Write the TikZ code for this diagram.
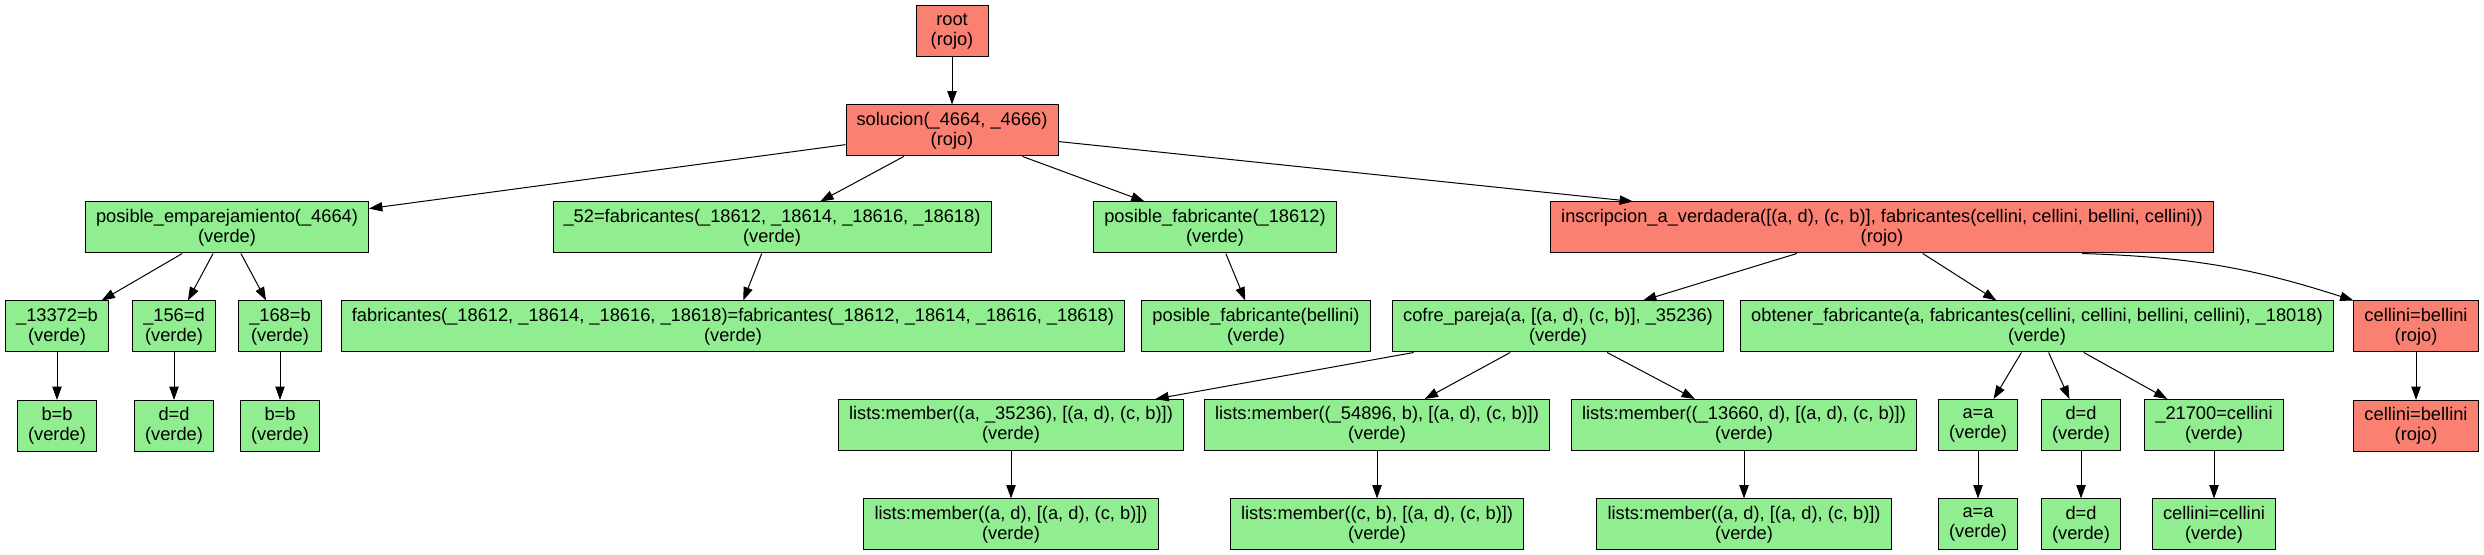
\documentclass[tikz,border=0pt]{standalone}
\usepackage{fontspec}
\setmainfont{Liberation Sans}
\usepackage{xcolor}
\usetikzlibrary{arrows.meta,positioning}

\definecolor{rojo}{HTML}{FA8072}
\definecolor{verde}{HTML}{90EE90}

\begin{document}
\begin{tikzpicture}[
    x=0.75pt, y=-0.75pt,
    node distance=35.6pt,
    goal/.style={rectangle, draw, line width=0.75pt, align=center, inner xsep=7.9pt, inner ysep=2pt,
        minimum width=54pt, minimum height=38.25pt, font=\fontsize{13.7pt}{15pt}\selectfont},
    rojobox/.style={goal, fill=rojo},
    verdebox/.style={goal, fill=verde},
    line/.style={draw, line width=0.75pt, -{Triangle[length=10pt, width=7pt]}}
]
    \useasboundingbox (0,0) rectangle (2484,555);

    % top of the tree
    \node [rojobox] (root) at (952,31) {root\\(rojo)};
    \node [rojobox, below=of root] (solucion) {solucion(\_4664, \_4666)\\(rojo)};

    % third row
    \node [verdebox] (emparejamiento) at (227,227.5) {posible\_emparejamiento(\_4664)\\(verde)};
    \node [verdebox] (fabricantes) at (772,227.5) {\_52=fabricantes(\_18612, \_18614, \_18616, \_18618)\\(verde)};
    \node [verdebox] (posfabricante) at (1215,227.5) {posible\_fabricante(\_18612)\\(verde)};
    \node [rojobox] (inscripcion) at (1882,227.5) {inscripcion\_a\_verdadera([(a, d), (c, b)], fabricantes(cellini, cellini, bellini, cellini))\\(rojo)};

    % fourth row
    \node [verdebox] (igualb) at (57,326.5) {\_13372=b\\(verde)};
    \node [verdebox] (iguald) at (174,326.5) {\_156=d\\(verde)};
    \node [verdebox] (igualbb) at (280,326.5) {\_168=b\\(verde)};
    \node [verdebox] (fabigual) at (733,326.5) {fabricantes(\_18612, \_18614, \_18616, \_18618)=fabricantes(\_18612, \_18614, \_18616, \_18618)\\(verde)};
    \node [verdebox] (posbellini) at (1256,326.5) {posible\_fabricante(bellini)\\(verde)};
    \node [verdebox] (cofre) at (1558,326.5) {cofre\_pareja(a, [(a, d), (c, b)], \_35236)\\(verde)};
    \node [verdebox] (obtener) at (2037,326.5) {obtener\_fabricante(a, fabricantes(cellini, cellini, bellini, cellini), \_18018)\\(verde)};
    \node [rojobox] (cellbell) at (2416,326.5) {cellini=bellini\\(rojo)};

    % fifth row
    \node [verdebox, below=of igualb] (bb) {b=b\\(verde)};
    \node [verdebox, below=of iguald] (dd) {d=d\\(verde)};
    \node [verdebox, below=of igualbb] (bbb) {b=b\\(verde)};
    \node [verdebox] (memberA) at (1011,425) {lists:member((a, \_35236), [(a, d), (c, b)])\\(verde)};
    \node [verdebox] (memberB) at (1377,425) {lists:member((\_54896, b), [(a, d), (c, b)])\\(verde)};
    \node [verdebox] (memberC) at (1744,425) {lists:member((\_13660, d), [(a, d), (c, b)])\\(verde)};
    \node [verdebox] (aa) at (1978,425) {a=a\\(verde)};
    \node [verdebox] (ddd) at (2081,425) {d=d\\(verde)};
    \node [verdebox] (igualcell) at (2214,425) {\_21700=cellini\\(verde)};
    \node [rojobox, below=of cellbell] (cellbell2) {cellini=bellini\\(rojo)};

    % sixth row
    \node [verdebox, below=of memberA] (memberA2) {lists:member((a, d), [(a, d), (c, b)])\\(verde)};
    \node [verdebox, below=of memberB] (memberB2) {lists:member((c, b), [(a, d), (c, b)])\\(verde)};
    \node [verdebox, below=of memberC] (memberC2) {lists:member((a, d), [(a, d), (c, b)])\\(verde)};
    \node [verdebox, below=of aa] (aa2) {a=a\\(verde)};
    \node [verdebox, below=of ddd] (ddd2) {d=d\\(verde)};
    \node [verdebox, below=of igualcell] (cellcell) {cellini=cellini\\(verde)};

    \path [line] (root) -- (solucion);
    \path [line] (solucion) -- (emparejamiento);
    \path [line] (solucion) -- (fabricantes);
    \path [line] (solucion) -- (posfabricante);
    \path [line] (solucion) -- (inscripcion);
    \path [line] (emparejamiento) -- (igualb);
    \path [line] (emparejamiento) -- (iguald);
    \path [line] (emparejamiento) -- (igualbb);
    \path [line] (igualb) -- (bb);
    \path [line] (iguald) -- (dd);
    \path [line] (igualbb) -- (bbb);
    \path [line] (fabricantes) -- (fabigual);
    \path [line] (posfabricante) -- (posbellini);
    \path [line] (inscripcion) -- (cofre);
    \path [line] (inscripcion) -- (obtener);
    \path [line] ([xshift=150pt]inscripcion.south) to [bend left=8] (cellbell.north west);
    \path [line] (cofre) -- (memberA);
    \path [line] (cofre) -- (memberB);
    \path [line] (cofre) -- (memberC);
    \path [line] (memberA) -- (memberA2);
    \path [line] (memberB) -- (memberB2);
    \path [line] (memberC) -- (memberC2);
    \path [line] (obtener) -- (aa);
    \path [line] (obtener) -- (ddd);
    \path [line] (obtener) -- (igualcell);
    \path [line] (aa) -- (aa2);
    \path [line] (ddd) -- (ddd2);
    \path [line] (igualcell) -- (cellcell);
    \path [line] (cellbell) -- (cellbell2);
\end{tikzpicture}
\end{document}
